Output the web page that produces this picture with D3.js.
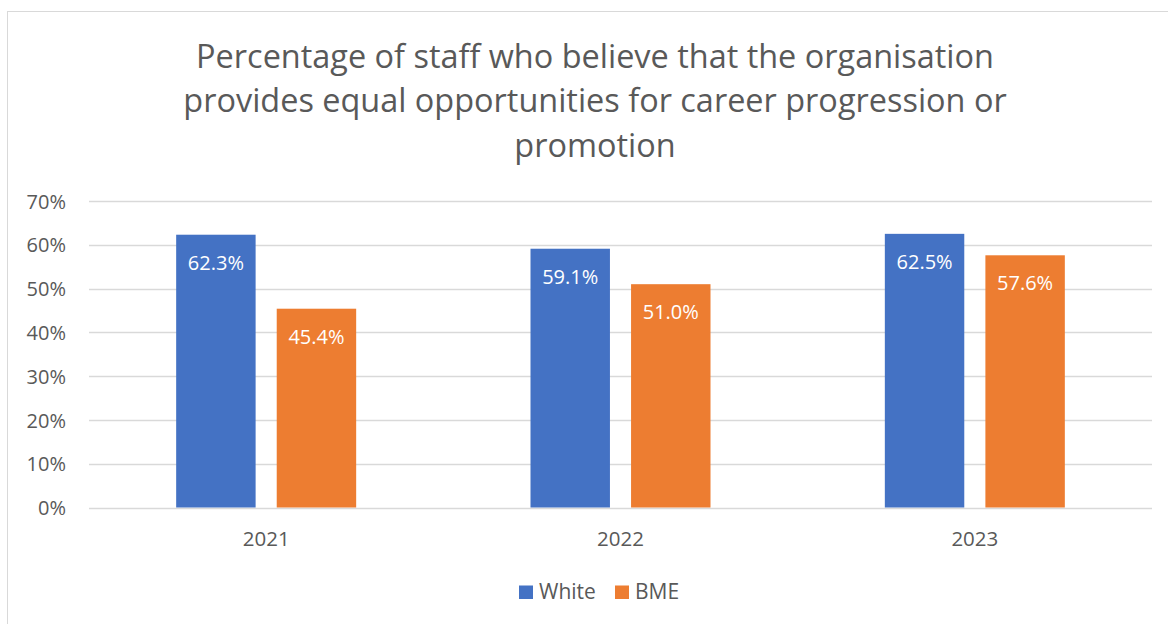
<!DOCTYPE html>
<html><head><meta charset="utf-8">
<script src="https://cdn.jsdelivr.net/npm/d3@7"></script>
<style>html,body{margin:0;padding:0;background:#fff;overflow:hidden}</style>
</head><body>
<svg id="c" width="1168" height="624"></svg>
<script>
const years = ["2021", "2022", "2023"];
const seriesNames = ["White", "BME"];
const whiteValues = [62.3, 59.1, 62.5];
const bmeValues = [45.4, 51.0, 57.6];
const yTicks = [0, 10, 20, 30, 40, 50, 60, 70];
const titleLines = ["Percentage of staff who believe that the organisation", "provides equal opportunities for career progression or", "promotion"];
const colors = ["#4472C4", "#ED7D31"];

(function(){
const FONT = "'Open Sans', 'Liberation Sans', sans-serif";
const svg = d3.select("#c");
svg.append("rect").attr("x", 7.5).attr("y", 11.5).attr("width", 1180).attr("height", 640)
  .attr("fill", "#fff").attr("stroke", "#d9d9d9").attr("stroke-width", 1);

const pLeft = 89, pRight = 1152, pTop = 201, pBottom = 507.5;
const x = d3.scaleBand().domain(years).range([pLeft, pRight]).paddingInner(0).paddingOuter(0);
const y = d3.scaleLinear().domain([0, 70]).range([pBottom, pTop]);
const groupW = 180;
const xs = d3.scaleBand().domain(seriesNames).range([0, groupW]).paddingInner(0.21);

// title
const titleBase = [68, 112, 157];
const tg = svg.append("g");
titleLines.forEach((t, i) => {
  tg.append("text").attr("x", 595).attr("y", titleBase[i]).attr("text-anchor", "middle")
    .attr("font-family", FONT).attr("font-size", 30).attr("fill", "#595959").text(t);
});
const tnodes = tg.selectAll("text").nodes();
const tw = tnodes[0].getComputedTextLength();
const tfs = 30 * 798 / tw;
tnodes.forEach(n => n.setAttribute("font-size", tfs));

// gridlines
svg.append("g").selectAll("line").data(yTicks).join("line")
  .attr("x1", pLeft).attr("x2", pRight)
  .attr("y1", d => Math.round(y(d)) + 0.5).attr("y2", d => Math.round(y(d)) + 0.5)
  .attr("stroke", "#d9d9d9").attr("stroke-width", 1.5);

// y axis labels
const yAxis = d3.axisLeft(y).tickValues(yTicks).tickFormat(d => d + "%").tickSize(0).tickPadding(0);
const ya = svg.append("g").attr("transform", `translate(66,0)`).call(yAxis);
ya.select(".domain").remove();
ya.selectAll("text").attr("font-family", FONT).attr("font-size", 20).attr("fill", "#595959").attr("dy", "0.36em");

// x axis labels
const xAxis = d3.axisBottom(x).tickSize(0).tickPadding(0);
const xa = svg.append("g").attr("transform", `translate(0,546)`).call(xAxis);
xa.select(".domain").remove();
xa.selectAll("text").attr("font-family", FONT).attr("font-size", 20.5).attr("fill", "#595959").attr("dy", 0);

// bars
const data = years.map((yr, i) => ({year: yr, vals: [whiteValues[i], bmeValues[i]]}));
const groups = svg.append("g").selectAll("g").data(data).join("g")
  .attr("transform", d => `translate(${x(d.year) + x.bandwidth()/2 - groupW/2},0)`);
groups.selectAll("rect").data(d => d.vals.map((v, j) => ({v, s: seriesNames[j], j}))).join("rect")
  .attr("x", d => xs(d.s)).attr("width", xs.bandwidth())
  .attr("y", d => y(d.v)).attr("height", d => y(0) - y(d.v))
  .attr("fill", d => colors[d.j]);
groups.selectAll("text.lbl").data(d => d.vals.map((v, j) => ({v, s: seriesNames[j], j}))).join("text")
  .attr("class", "lbl")
  .attr("x", d => xs(d.s) + xs.bandwidth()/2).attr("y", d => y(d.v) + 28)
  .attr("dy", "0.36em").attr("text-anchor", "middle")
  .attr("font-family", FONT).attr("font-size", 20).attr("fill", "#fff")
  .text(d => d.v.toFixed(1) + "%");

// legend
const legend = svg.append("g");
const legItems = [{name: "White", x: 519}, {name: "BME", x: 615}];
legItems.forEach((it, i) => {
  legend.append("rect").attr("x", it.x).attr("y", 585.5).attr("width", 14).attr("height", 13.5).attr("fill", colors[i]);
  legend.append("text").attr("x", it.x + 20).attr("y", 599)
    .attr("font-family", FONT).attr("font-size", 21).attr("fill", "#595959").text(it.name);
});
})();
</script>
</body></html>
